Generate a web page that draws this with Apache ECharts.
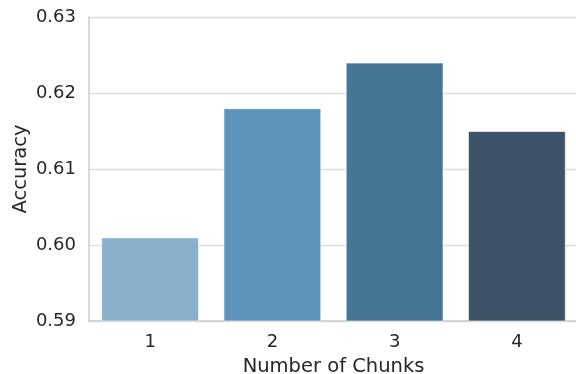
<!DOCTYPE html>
<html><head><meta charset="utf-8">
<script src="https://cdn.jsdelivr.net/npm/echarts@6/dist/echarts.min.js"></script>
<style>html,body{margin:0;padding:0;background:#fff}#c{width:576px;height:374px}</style>
</head><body><div id="c"></div>
<script>
const categories = ['1', '2', '3', '4'];
const accuracy = [0.601, 0.618, 0.624, 0.615];
const barColors = ['#88b0cb', '#5e93b9', '#457595', '#3c5368'];
const yTicks = [0.59, 0.60, 0.61, 0.62, 0.63];

const chart = echarts.init(document.getElementById('c'), null, {renderer: 'canvas'});
const txt = '#262626';
const font = 'DejaVu Sans';
chart.setOption({
  animation: false,
  backgroundColor: '#ffffff',
  grid: {left: 89, top: 17, width: 489, height: 304, containLabel: false, outerBoundsMode: 'none'},
  xAxis: {
    type: 'category', data: categories,
    name: 'Number of Chunks', nameLocation: 'middle', nameGap: 36, nameMoveOverlap: false,
    nameTextStyle: {color: txt, fontSize: 19.5, fontFamily: font},
    axisLine: {lineStyle: {color: '#cccccc', width: 1.5}},
    axisTick: {show: false},
    axisLabel: {color: txt, fontSize: 18, fontFamily: font, margin: 12},
    splitLine: {show: false}
  },
  yAxis: {
    type: 'value', min: yTicks[0], max: yTicks[yTicks.length - 1], interval: 0.01,
    name: 'Accuracy', nameLocation: 'middle', nameGap: 58, nameMoveOverlap: false,
    nameTextStyle: {color: txt, fontSize: 19.5, fontFamily: font},
    axisLine: {show: true, lineStyle: {color: '#cccccc', width: 1.5}},
    axisTick: {show: false},
    axisLabel: {color: txt, fontSize: 18, fontFamily: font, margin: 13,
      formatter: v => v.toFixed(2)},
    splitLine: {lineStyle: {color: '#dddddd', width: 1.3}}
  },
  series: [{
    type: 'bar',
    barCategoryGap: '20%',
    data: accuracy.map((v, i) => ({value: v, itemStyle: {color: barColors[i], borderColor: 'rgba(255,255,255,0.6)', borderWidth: 1}}))
  }]
});
</script></body></html>
